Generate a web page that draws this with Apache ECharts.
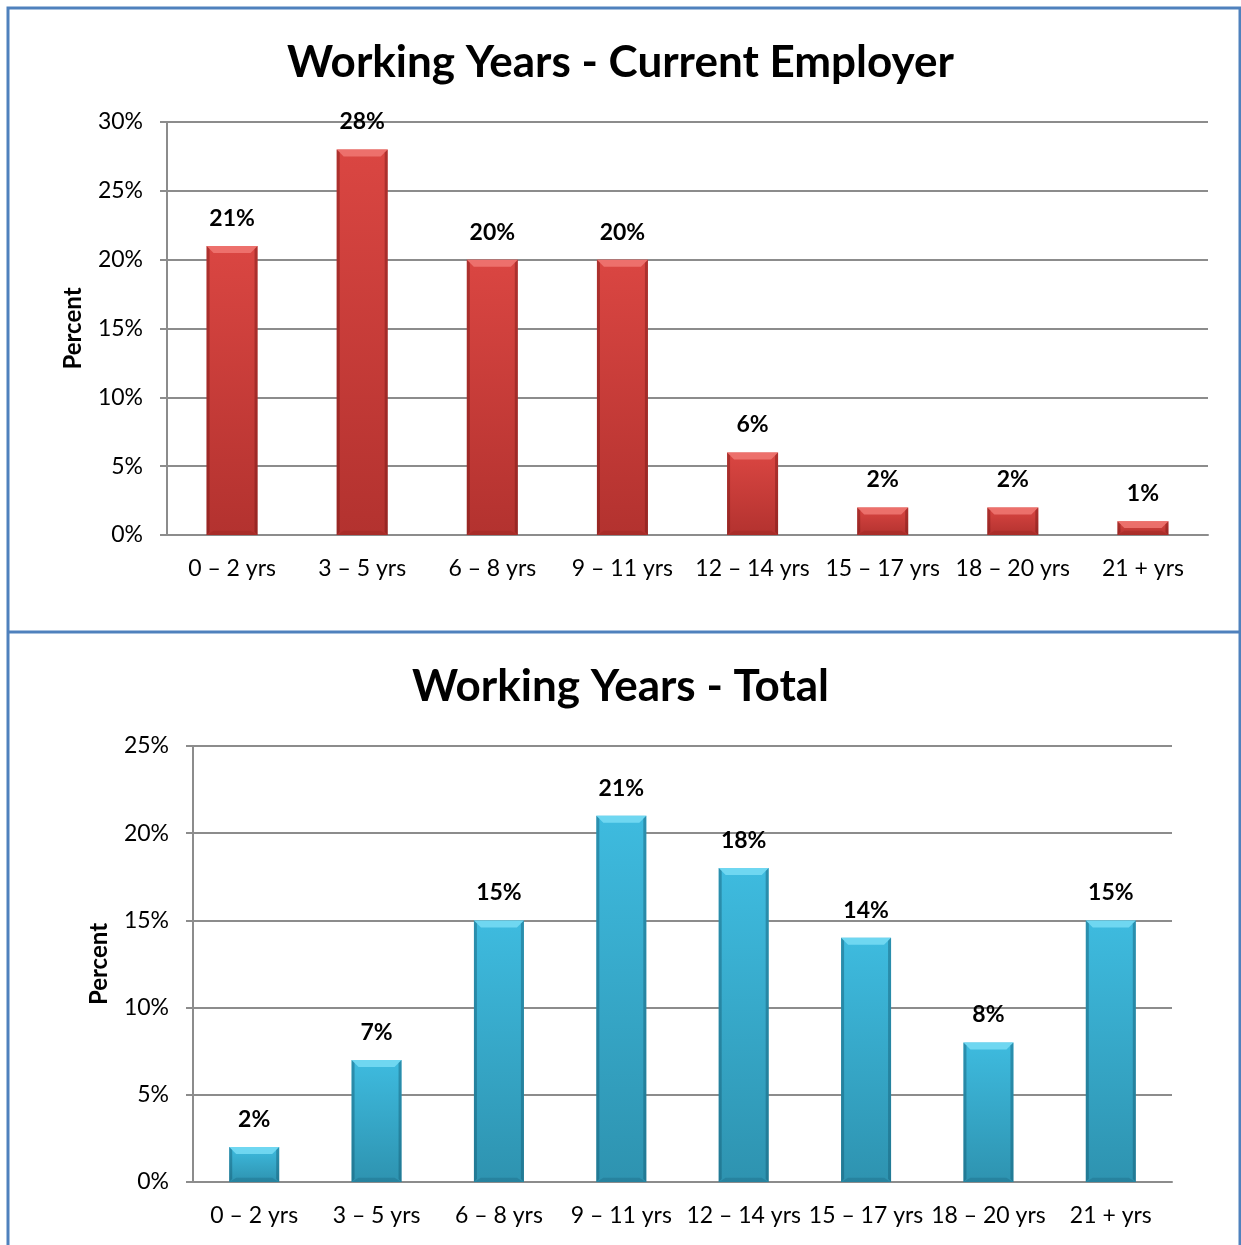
<!DOCTYPE html>
<html>
<head>
<meta charset="utf-8">
<script src="https://cdn.jsdelivr.net/npm/echarts@6/dist/echarts.min.js"></script>
<style>
  html, body { margin: 0; padding: 0; background: #ffffff; }
  #chart { width: 1241px; height: 1245px; }
</style>
</head>
<body>
<div id="chart"></div>
<script>
// Tenure brackets shared by both panels
var categories = ['0 – 2 yrs', '3 – 5 yrs', '6 – 8 yrs', '9 – 11 yrs', '12 – 14 yrs', '15 – 17 yrs', '18 – 20 yrs', '21 + yrs'];
// Percent of respondents, years with current employer
var currentEmployer = [21, 28, 20, 20, 6, 2, 2, 1];
// Percent of respondents, total working years
var totalYears = [2, 7, 15, 21, 18, 14, 8, 15];
// Value-axis ranges
var topAxisMax = 30;
var bottomAxisMax = 25;
var axisStep = 5;

var FONT = 'Lato, "Open Sans", sans-serif';
var GRAY = '#8c8c8c';
var FRAME = '#4f81bd';

var chart = echarts.init(document.getElementById('chart'), null, { renderer: 'canvas' });

function bodyFill(light, dark) {
  return new echarts.graphic.LinearGradient(0, 0, 0, 1, [
    { offset: 0, color: light },
    { offset: 1, color: dark }
  ]);
}

// Bevelled edges drawn on top of each bar body
function bevel(barW, topColor, sideColor, bottomColor) {
  return function (params, api) {
    var idx = api.value(0);
    var top = api.coord([idx, api.value(1)]);
    var base = api.coord([idx, 0]);
    var x0 = top[0] - barW / 2, x1 = top[0] + barW / 2;
    var y0 = top[1], y1 = base[1];
    var b = Math.min(7, (y1 - y0) / 2);
    var s = 3;
    return {
      type: 'group',
      children: [
        { type: 'polygon', shape: { points: [[x0, y0], [x1, y0], [x1 - b, y0 + b], [x0 + b, y0 + b]] },
          style: { fill: topColor } },
        { type: 'polygon', shape: { points: [[x0, y0], [x0 + s, y0 + s], [x0 + s, y1 - s], [x0, y1]] },
          style: { fill: sideColor } },
        { type: 'polygon', shape: { points: [[x1, y0], [x1 - s, y0 + s], [x1 - s, y1 - s], [x1, y1]] },
          style: { fill: sideColor } },
        { type: 'polygon', shape: { points: [[x0, y1], [x0 + b, y1 - b * 0.6], [x1 - b, y1 - b * 0.6], [x1, y1]] },
          style: { fill: bottomColor } }
      ]
    };
  };
}

function valueAxis(gridIndex, max) {
  return {
    type: 'value', gridIndex: gridIndex, min: 0, max: max, interval: axisStep,
    name: 'Percent', nameLocation: 'middle', nameGap: 82, nameRotate: 90,
    nameTextStyle: { fontFamily: FONT, fontSize: 24, fontWeight: 'bold', color: '#000' },
    axisLine: { show: true, lineStyle: { color: GRAY, width: 2 } },
    axisTick: { show: true, length: 7, lineStyle: { color: GRAY, width: 2 } },
    axisLabel: { formatter: '{value}%', fontFamily: FONT, fontSize: 23, color: '#000', margin: 24 },
    splitLine: { show: true, lineStyle: { color: GRAY, width: 2 } }
  };
}

function catAxis(gridIndex) {
  return {
    type: 'category', gridIndex: gridIndex, data: categories,
    axisLine: { show: true, lineStyle: { color: GRAY, width: 2 } },
    axisTick: { show: false },
    axisLabel: { interval: 0, fontFamily: FONT, fontSize: 23, color: '#000', margin: 22 }
  };
}

var labelStyle = {
  show: true, position: 'top', distance: 16, formatter: '{c}%',
  fontFamily: FONT, fontSize: 23, fontWeight: 'bold', color: '#000'
};

function pairs(arr) { return arr.map(function (v, i) { return [i, v]; }); }

chart.setOption({
  animation: false,
  backgroundColor: '#ffffff',
  title: [
    { text: 'Working Years - Current Employer', left: 'center', top: 36,
      textStyle: { fontFamily: FONT, fontSize: 44, fontWeight: 'bold', color: '#000' } },
    { text: 'Working Years - Total', left: 'center', top: 660,
      textStyle: { fontFamily: FONT, fontSize: 44, fontWeight: 'bold', color: '#000' } }
  ],
  grid: [
    { left: 167, right: 33, top: 122, height: 413 },
    { left: 193, right: 69, top: 746, height: 436 }
  ],
  xAxis: [catAxis(0), catAxis(1)],
  yAxis: [valueAxis(0, topAxisMax), valueAxis(1, bottomAxisMax)],
  series: [
    { type: 'bar', xAxisIndex: 0, yAxisIndex: 0, data: currentEmployer, barWidth: 51,
      itemStyle: { color: bodyFill('#da4642', '#b3322f') }, label: labelStyle, z: 2 },
    { type: 'custom', xAxisIndex: 0, yAxisIndex: 0, data: pairs(currentEmployer), silent: true, z: 3,
      renderItem: bevel(51, 'rgba(240,120,115,0.85)', 'rgba(120,25,22,0.45)', 'rgba(150,35,30,0.35)') },
    { type: 'bar', xAxisIndex: 1, yAxisIndex: 1, data: totalYears, barWidth: 50,
      itemStyle: { color: bodyFill('#3ebbdf', '#2e93b0') }, label: labelStyle, z: 2 },
    { type: 'custom', xAxisIndex: 1, yAxisIndex: 1, data: pairs(totalYears), silent: true, z: 3,
      renderItem: bevel(50, 'rgba(120,220,245,0.85)', 'rgba(20,90,115,0.45)', 'rgba(25,100,125,0.35)') }
  ],
  graphic: [
    // panel frames
    { type: 'polyline', silent: true, shape: { points: [[8, 1245], [8, 8], [1240, 8], [1240, 1245]] },
      style: { stroke: FRAME, lineWidth: 3, fill: null } },
    { type: 'line', silent: true, shape: { x1: 8, y1: 632, x2: 1240, y2: 632 },
      style: { stroke: FRAME, lineWidth: 3 } }
  ]
});
</script>
</body>
</html>
